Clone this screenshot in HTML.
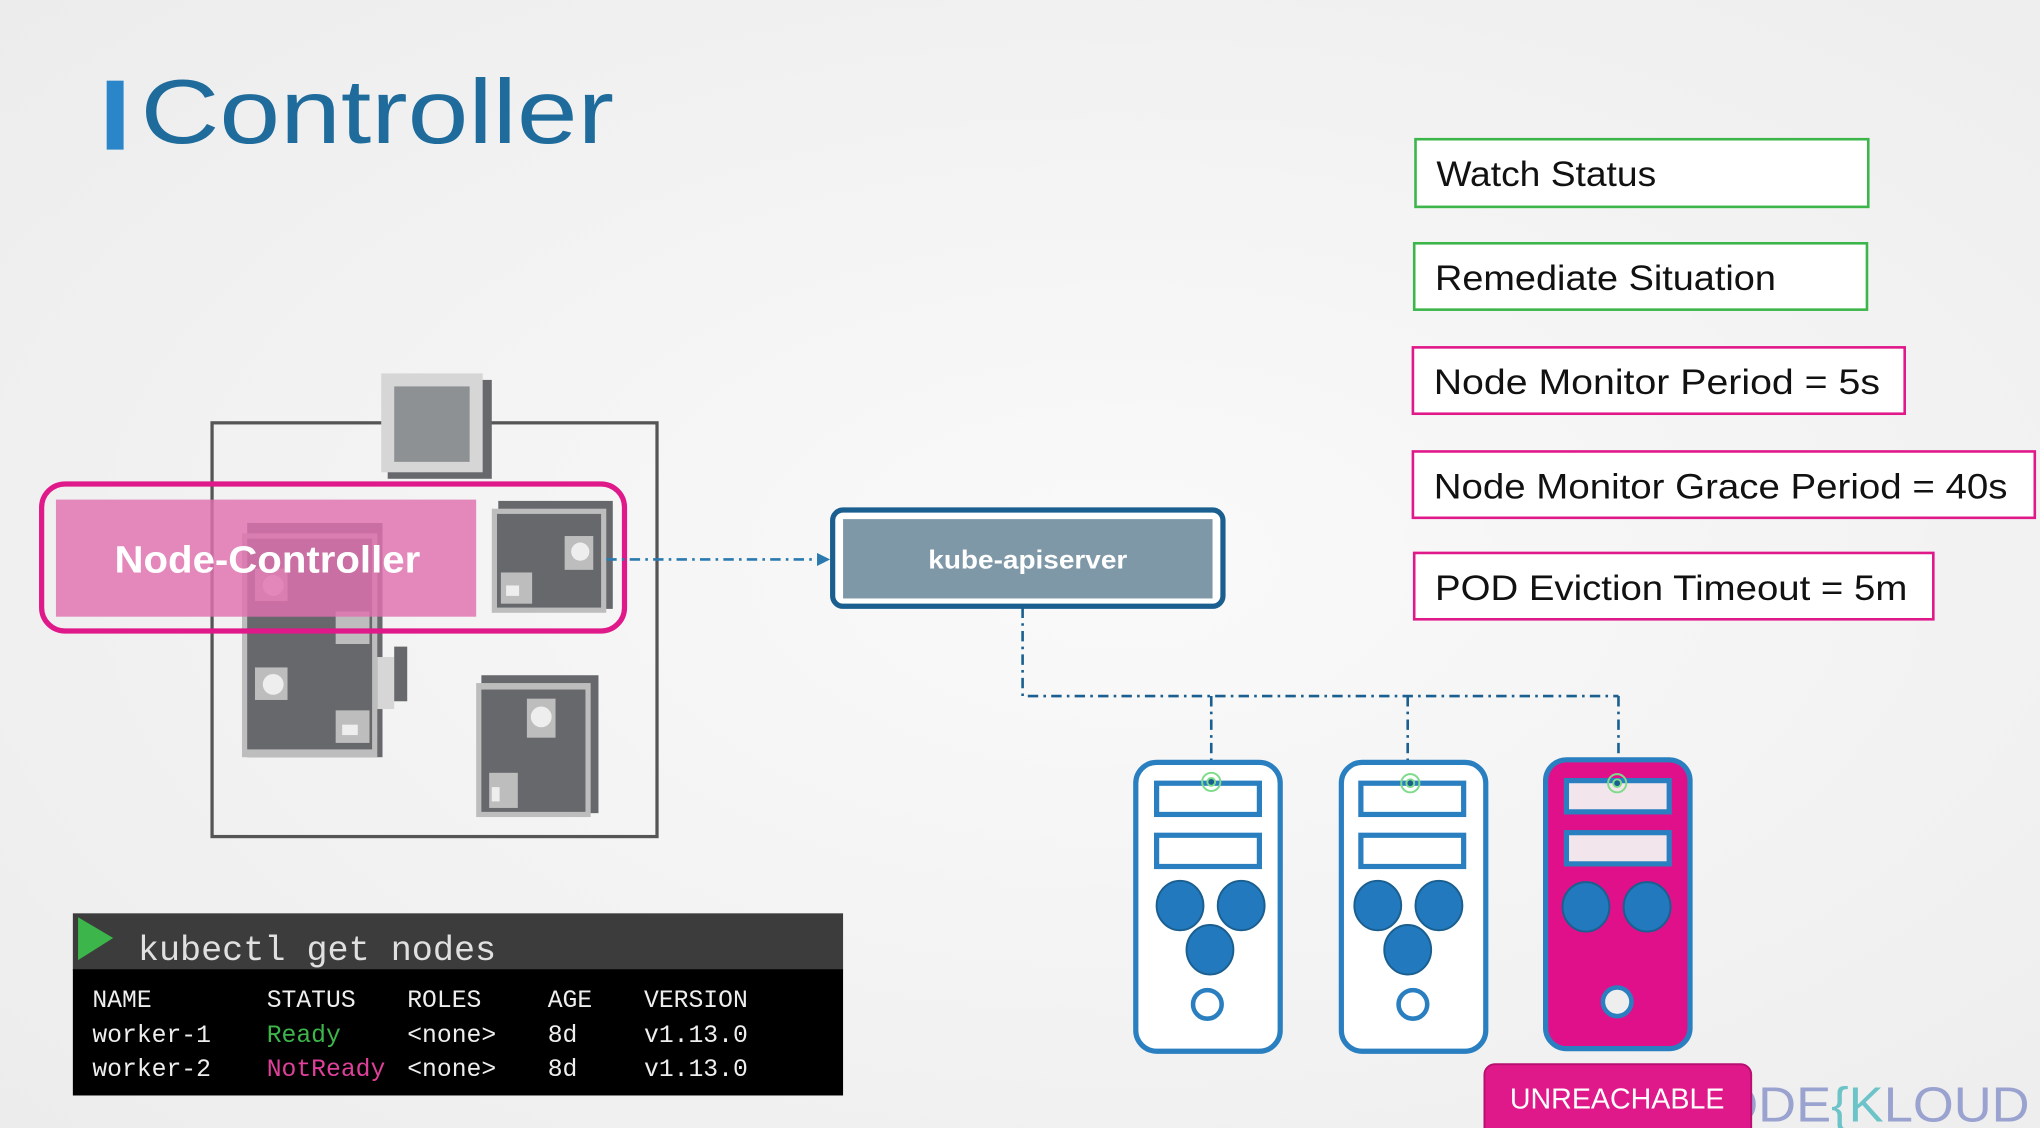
<!DOCTYPE html>
<html><head><meta charset="utf-8"><style>
html,body{margin:0;padding:0;background:#f2f2f2;}
svg{display:block;}
</style></head><body>
<svg width="2040" height="1128" viewBox="0 0 1568 867" preserveAspectRatio="none" xmlns="http://www.w3.org/2000/svg">
<defs>
<radialGradient id="bg" cx="0.55" cy="0.5" r="0.8"><stop offset="0" stop-color="#fafafa"/><stop offset="1" stop-color="#ebebeb"/></radialGradient>
<marker id="ar" markerWidth="10" markerHeight="10" refX="8" refY="5" orient="auto" markerUnits="userSpaceOnUse"><path d="M0,0 L10,5 L0,10 z" fill="#2a7ab0"/></marker>
</defs>
<rect width="1568" height="867" fill="url(#bg)"/>
<rect x="82" y="62" width="13" height="53" fill="#2a86c8"/>
<text x="108" y="110" font-family="Liberation Sans, sans-serif" font-size="70" fill="#1f6c9c" textLength="364" lengthAdjust="spacingAndGlyphs">Controller</text>

<g font-family="Liberation Sans, sans-serif" font-size="27" fill="#111">
<rect x="1088" y="107" width="348" height="52" fill="#fff" stroke="#3cb64a" stroke-width="2"/>
<text x="1104" y="143" textLength="169" lengthAdjust="spacingAndGlyphs">Watch Status</text>
<rect x="1087" y="187" width="348" height="51" fill="#fff" stroke="#3cb64a" stroke-width="2"/>
<text x="1103" y="223" textLength="262" lengthAdjust="spacingAndGlyphs">Remediate Situation</text>
<rect x="1086" y="267" width="378" height="51" fill="#fff" stroke="#e0198a" stroke-width="2"/>
<text x="1102" y="303" textLength="343" lengthAdjust="spacingAndGlyphs">Node Monitor Period = 5s</text>
<rect x="1086" y="347" width="478" height="51" fill="#fff" stroke="#e0198a" stroke-width="2"/>
<text x="1102" y="383" textLength="441" lengthAdjust="spacingAndGlyphs">Node Monitor Grace Period = 40s</text>
<rect x="1087" y="425" width="399" height="51" fill="#fff" stroke="#e0198a" stroke-width="2"/>
<text x="1103" y="461" textLength="363" lengthAdjust="spacingAndGlyphs">POD Eviction Timeout = 5m</text>
</g>

<!-- cluster diagram -->
<rect x="163" y="325" width="342" height="318" fill="none" stroke="#555" stroke-width="2.5"/>
<rect x="298" y="292" width="80" height="76" fill="#66686c"/>
<rect x="293" y="287" width="78" height="76" fill="#d6d6d6"/>
<rect x="303" y="297" width="58" height="58" fill="#8e9194"/>
<rect x="190" y="402" width="104" height="180" fill="#66686c"/>
<rect x="186" y="410" width="104" height="172" fill="#bdbdbd"/>
<rect x="190" y="414" width="96" height="162" fill="#66686c"/>
<rect x="290" y="505" width="13" height="40" fill="#d6d6d6"/><rect x="303" y="497" width="10" height="42" fill="#66686c"/>
<rect x="196" y="513" width="25" height="25" fill="#bdbdbd"/><circle cx="210" cy="526" r="8" fill="#eee"/>
<rect x="258" y="546" width="26" height="25" fill="#bdbdbd"/><rect x="263" y="557" width="12" height="8" fill="#eee"/>
<rect x="196" y="437" width="25" height="25" fill="#bdbdbd"/><circle cx="210" cy="450" r="8" fill="#eee"/>
<rect x="258" y="470" width="26" height="25" fill="#bdbdbd"/>
<rect x="370" y="519" width="90" height="106" fill="#66686c"/>
<rect x="366" y="525" width="88" height="103" fill="#bdbdbd"/>
<rect x="370" y="530" width="80" height="94" fill="#66686c"/>
<rect x="405" y="537" width="22" height="30" fill="#bdbdbd"/><circle cx="416" cy="551" r="8" fill="#eee"/>
<rect x="376" y="594" width="22" height="27" fill="#bdbdbd"/><rect x="378" y="605" width="6" height="11" fill="#eee"/>

<rect x="43" y="384" width="323" height="90" fill="#e070b0" opacity="0.82"/>
<rect x="32" y="372" width="448" height="113" rx="18" fill="none" stroke="#e0198a" stroke-width="4"/>
<text x="88" y="440" font-family="Liberation Sans, sans-serif" font-weight="bold" font-size="29" fill="#fff" textLength="235" lengthAdjust="spacingAndGlyphs">Node-Controller</text>
<rect x="383" y="385" width="88" height="83" fill="#66686c"/>
<rect x="378" y="391" width="88" height="80" fill="#bdbdbd"/>
<rect x="382" y="395" width="80" height="72" fill="#66686c"/>
<rect x="434" y="412" width="22" height="26" fill="#bdbdbd"/><circle cx="446" cy="424" r="7" fill="#eee"/>
<rect x="385" y="440" width="24" height="24" fill="#bdbdbd"/><rect x="389" y="450" width="10" height="8" fill="#eee"/>

<line x1="466" y1="430" x2="636" y2="430" stroke="#2a7ab0" stroke-width="2" stroke-dasharray="8,4,2,4" marker-end="url(#ar)"/>

<rect x="640" y="392" width="300" height="74" rx="8" fill="#fff" stroke="#1a5f8f" stroke-width="4"/>
<rect x="648" y="399" width="284" height="61" fill="#7f98a8"/>
<text x="790" y="437" text-anchor="middle" font-family="Liberation Sans, sans-serif" font-weight="bold" font-size="20" fill="#fff" textLength="153" lengthAdjust="spacingAndGlyphs">kube-apiserver</text>

<g fill="none" stroke="#1a5f8f" stroke-width="2" stroke-dasharray="8,4,2,4">
<polyline points="786,467 786,535 1244,535"/>
<line x1="931" y1="535" x2="931" y2="600"/>
<line x1="1082" y1="535" x2="1082" y2="600"/>
<line x1="1244" y1="535" x2="1244" y2="600"/>
</g>

<g stroke="#2a7fc0" stroke-width="4">
<rect x="873" y="586" width="111" height="222" rx="16" fill="#fff"/>
<rect x="889" y="602" width="79" height="24" fill="none"/>
<rect x="889" y="642" width="79" height="24" fill="none"/>
<rect x="1031" y="586" width="111" height="222" rx="16" fill="#fff"/>
<rect x="1046" y="602" width="79" height="24" fill="none"/>
<rect x="1046" y="642" width="79" height="24" fill="none"/>
<rect x="1188" y="584" width="111" height="222" rx="16" fill="#e0108a"/>
<rect x="1204" y="600" width="79" height="24" fill="#f2e6ec"/>
<rect x="1204" y="640" width="79" height="24" fill="#f2e6ec"/>
</g>
<g fill="#2279bd" stroke="#1a5f8f" stroke-width="1.5">
<ellipse cx="907" cy="696" rx="18" ry="19"/><ellipse cx="954" cy="696" rx="18" ry="19"/><ellipse cx="930" cy="730" rx="18" ry="19"/>
<ellipse cx="1059" cy="696" rx="18" ry="19"/><ellipse cx="1106" cy="696" rx="18" ry="19"/><ellipse cx="1082" cy="730" rx="18" ry="19"/>
<ellipse cx="1219" cy="697" rx="18" ry="19"/><ellipse cx="1266" cy="697" rx="18" ry="19"/>
</g>
<g fill="#fff" stroke="#2a7fc0" stroke-width="3.5">
<circle cx="928" cy="772" r="11"/><circle cx="1086" cy="772" r="11"/><circle cx="1243" cy="770" r="11" fill="#eee"/>
</g>
<g fill="#1a5f8f" stroke="#7ddc8a" stroke-width="1.5">
<circle cx="931" cy="601" r="7" fill="none"/><circle cx="931" cy="601" r="3"/>
<circle cx="1084" cy="602" r="7" fill="none"/><circle cx="1084" cy="602" r="3"/>
<circle cx="1243" cy="602" r="7" fill="none"/><circle cx="1243" cy="602" r="3"/>
</g>

<text x="1320" y="862" font-family="Liberation Sans, sans-serif" font-size="38" fill="#9aa3cf" textLength="240" lengthAdjust="spacingAndGlyphs">ODE<tspan fill="#6cc3c8">{K</tspan>LOUD</text>
<rect x="1141" y="818" width="205" height="56" rx="8" fill="#e0198a" stroke="#b81070" stroke-width="1.5"/>
<text x="1243" y="852" text-anchor="middle" font-family="Liberation Sans, sans-serif" font-size="22" fill="#fff">UNREACHABLE</text>

<rect x="56" y="702" width="592" height="44" fill="#3c3c3c"/>
<polygon points="60,705 87,721 60,738" fill="#3cb64a"/>
<text x="106" y="738" font-family="Liberation Mono, monospace" font-size="27" fill="#e0e0e0">kubectl get nodes</text>
<rect x="56" y="745" width="592" height="97" fill="#000"/>
<g font-family="Liberation Mono, monospace" font-size="19" fill="#eee">
<text x="71" y="774">NAME</text><text x="205" y="774">STATUS</text><text x="313" y="774">ROLES</text><text x="421" y="774">AGE</text><text x="495" y="774">VERSION</text>
<text x="71" y="801">worker-1</text><text x="205" y="801" fill="#3cb64a">Ready</text><text x="313" y="801">&lt;none&gt;</text><text x="421" y="801">8d</text><text x="495" y="801">v1.13.0</text>
<text x="71" y="827">worker-2</text><text x="205" y="827" fill="#e0409a">NotReady</text><text x="313" y="827">&lt;none&gt;</text><text x="421" y="827">8d</text><text x="495" y="827">v1.13.0</text>
</g>
</svg>
</body></html>
